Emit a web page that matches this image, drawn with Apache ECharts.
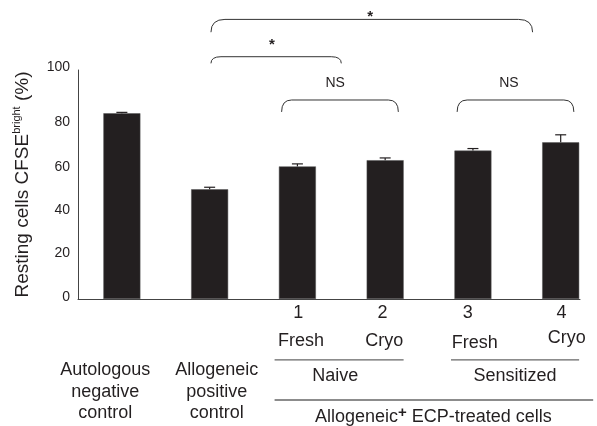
<!DOCTYPE html>
<html><head><meta charset="utf-8">
<script src="https://cdn.jsdelivr.net/npm/echarts@6/dist/echarts.min.js"></script>
<style>html,body{margin:0;padding:0;background:#fff}#c{width:597px;height:426px}</style>
</head><body><div id="c"></div>
<script>
// ---- data ----
const categories = ['Autologous negative control', 'Allogeneic positive control', 'Naive Fresh (1)', 'Naive Cryo (2)', 'Sensitized Fresh (3)', 'Sensitized Cryo (4)'];
const barPositions = [0, 1, 2, 3, 4, 5];
const means = [81.1, 47.9, 57.9, 60.6, 64.8, 68.4];
const errors = [0.4, 0.9, 1.1, 1.0, 0.9, 3.3];
const yTickValues = [0, 20, 40, 60, 80, 100];

// significance brackets: [x1, x2, yEnd, yTop]
const brackets = [[1.015, 2.5, 102.9, 105.8], [1.015, 4.68, 116.5, 122.1], [1.82, 3.15, 81.7, 86.9], [3.82, 5.15, 81.7, 86.9]];
const bracketLabels = ['*', '*', 'NS', 'NS'];
const bracketLabelX = [1.71, 2.83, 2.43, 4.41];
const bracketLabelY = [110.9, 123.3, 94.3, 94.3];

// category annotation below axis
const numberLabels = ['1', '2', '3', '4'];
const numberX = [2.01, 2.97, 3.94, 5.01];
const numberY = [-6.1, -6.1, -6.1, -6.1];
const conditionLabels = ['Fresh', 'Cryo', 'Fresh', 'Cryo'];
const conditionX = [2.04, 2.99, 4.02, 5.07];
const conditionY = [-18.2, -18.2, -19.1, -17.2];
const groupLines = [[1.74, 3.21, -26.6], [3.75, 5.21, -26.6], [1.74, 5.37, -44.1]];
const groupLabels = ['Naive', 'Sensitized'];
const groupX = [2.43, 4.48];
const groupY = [-33.6, -33.6];
const controlLabels = ['Autologous\nnegative\ncontrol', 'Allogeneic\npositive\ncontrol'];
const controlX = [-0.19, 1.08];
const controlY = [-40.5, -40.5];
const treatedLabel = ['Allogeneic', '+', ' ECP-treated cells'];
const treatedX = 3.55, treatedY = -51.4;

// ---- style ----
const FONT = '"Liberation Sans", Arial, Helvetica, sans-serif';
const INK = '#231f20';
// small vertical nudges of the y tick labels, as in the source figure (px, + = down)
const yLabelNudge = {0: -2, 20: 0, 40: 3, 60: 6, 80: 6, 100: -3};

const chart = echarts.init(document.getElementById('c'));

const textItems = [];
numberLabels.forEach((t, i) => textItems.push({x: numberX[i], y: numberY[i], text: t, size: 18}));
conditionLabels.forEach((t, i) => textItems.push({x: conditionX[i], y: conditionY[i], text: t, size: 18}));
groupLabels.forEach((t, i) => textItems.push({x: groupX[i], y: groupY[i], text: t, size: 18}));
controlLabels.forEach((t, i) => textItems.push({x: controlX[i], y: controlY[i], text: t, size: 18, lh: 21.5}));
bracketLabels.forEach((t, i) => textItems.push({x: bracketLabelX[i], y: bracketLabelY[i], text: t,
  size: t === '*' ? 15 : 14, bold: t === '*'}));
textItems.push({x: treatedX, y: treatedY, rich: true});

function bracketPath(a, b, yEnd, yTop, r) {
  return `M${a},${yEnd} Q${a},${yTop} ${a + r},${yTop} L${b - r},${yTop} Q${b},${yTop} ${b},${yEnd}`;
}

const yRich = {};
yTickValues.forEach(v => {
  const n = yLabelNudge[v] || 0;
  yRich['v' + v] = {fontFamily: FONT, fontSize: 14, color: INK,
    padding: n >= 0 ? [2 * n, 0, 0, 0] : [0, 0, -2 * n, 0]};
});

chart.setOption({
  animation: false,
  backgroundColor: '#fff',
  grid: {left: 78, right: 17, top: 70, bottom: 127, containLabel: false},
  xAxis: {
    type: 'value', min: -0.5, max: 5.22,
    axisLine: {show: true, onZero: false, lineStyle: {color: '#444', width: 1}},
    axisTick: {show: false}, axisLabel: {show: false}, splitLine: {show: false}
  },
  yAxis: {
    type: 'value', min: yTickValues[0], max: yTickValues[yTickValues.length - 1], interval: yTickValues[1] - yTickValues[0],
    axisLine: {show: true, onZero: false, lineStyle: {color: '#444', width: 1}},
    axisTick: {show: false}, splitLine: {show: false},
    axisLabel: {fontFamily: FONT, fontSize: 14, color: INK, margin: 8,
      formatter: v => '{v' + v + '|' + v + '}', rich: yRich},
    name: '{a|Resting cells CFSE}{b|bright}{a| (%)}',
    nameLocation: 'middle', nameRotate: 90, nameGap: 43,
    nameTextStyle: {
      rich: {
        a: {fontFamily: FONT, fontSize: 19, color: INK, lineHeight: 24},
        b: {fontFamily: FONT, fontSize: 11, color: INK, lineHeight: 12, verticalAlign: 'top'}
      }
    }
  },
  series: [
    {
      type: 'bar', barWidth: 37,
      data: barPositions.map((x, i) => [x, means[i]]),
      itemStyle: {color: INK, borderColor: '#555', borderWidth: 0.5}
    },
    {
      type: 'custom', encode: {x: 0, y: 1}, z: 3,
      data: barPositions.map((x, i) => [x, means[i], errors[i]]),
      renderItem: (params, api) => {
        const x = api.value(0), m = api.value(1), e = api.value(2);
        const b = api.coord([x, m]), t = api.coord([x, m + e]);
        return {type: 'group', children: [
          {type: 'line', shape: {x1: b[0], y1: b[1], x2: t[0], y2: t[1]}, style: {stroke: INK, lineWidth: 1.2}},
          {type: 'line', shape: {x1: t[0] - 5.5, y1: t[1], x2: t[0] + 5.5, y2: t[1]}, style: {stroke: INK, lineWidth: 1.2}}
        ]};
      }
    },
    {
      type: 'custom', encode: {x: 0, y: 2}, clip: false, silent: true,
      data: brackets.map(d => d.slice()),
      renderItem: (params, api) => {
        const p1 = api.coord([api.value(0), api.value(2)]);
        const p2 = api.coord([api.value(1), api.value(3)]);
        const r = params.dataIndex === 1 ? 14 : 10;
        return {type: 'path', shape: {pathData: bracketPath(p1[0], p2[0], p1[1], p2[1], r)},
          style: {fill: null, stroke: '#333', lineWidth: 1}};
      }
    },
    {
      type: 'custom', encode: {x: 0, y: 2}, clip: false, silent: true,
      data: groupLines.map(d => d.slice()),
      renderItem: (params, api) => {
        const p1 = api.coord([api.value(0), api.value(2)]);
        const p2 = api.coord([api.value(1), api.value(2)]);
        return {type: 'line', shape: {x1: p1[0], y1: p1[1], x2: p2[0], y2: p2[1]},
          style: {stroke: '#666', lineWidth: 1.3}};
      }
    },
    {
      type: 'custom', encode: {x: 0, y: 1}, clip: false, silent: true,
      data: textItems.map((d, i) => [d.x, d.y, i]),
      renderItem: (params, api) => {
        const d = textItems[api.value(2)];
        const p = api.coord([api.value(0), api.value(1)]);
        if (d.rich) {
          return {type: 'text', x: p[0], y: p[1], style: {
            text: '{t|' + treatedLabel[0] + '}{s|' + treatedLabel[1] + '}{t|' + treatedLabel[2] + '}',
            align: 'center', verticalAlign: 'middle',
            rich: {
              t: {fontFamily: FONT, fontSize: 18, fill: INK, lineHeight: 22},
              s: {fontFamily: FONT, fontSize: 15, fontWeight: 'bold', fill: INK, lineHeight: 12, verticalAlign: 'top'}
            }
          }};
        }
        return {type: 'text', x: p[0], y: p[1], style: {
          text: d.text, align: 'center', verticalAlign: 'middle',
          fontFamily: FONT, fontSize: d.size, fontWeight: d.bold ? 'bold' : 'normal',
          fill: INK, lineHeight: d.lh || d.size * 1.2
        }};
      }
    }
  ]
});
</script></body></html>
